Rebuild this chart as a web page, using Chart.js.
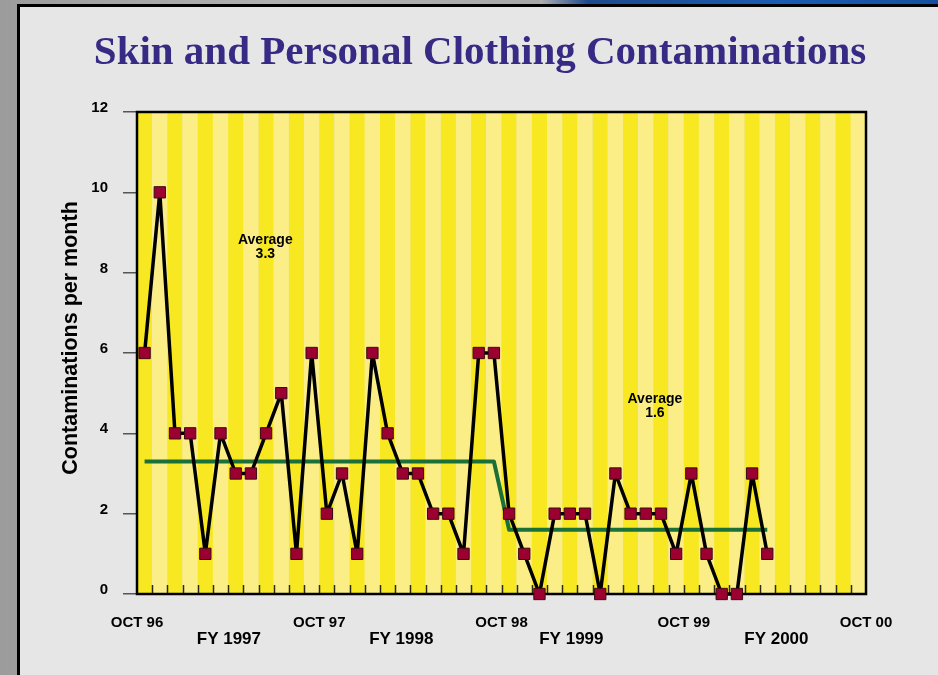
<!DOCTYPE html>
<html>
<head>
<meta charset="utf-8">
<title>Skin and Personal Clothing Contaminations</title>
<script src="https://cdn.jsdelivr.net/npm/chart.js@4.4.1/dist/chart.umd.min.js"></script>
<style>
  html, body { margin: 0; padding: 0; }
  body {
    width: 938px; height: 675px; overflow: hidden; position: relative;
    background: linear-gradient(90deg, #9c9c9c, #b2b2b2 30%, #a4a4a4 70%, #b0b0b0);
  }
  #sky {
    position: absolute; left: 540px; top: 0; width: 398px; height: 6px;
    background: linear-gradient(90deg, #b0b0b0, #1d4a8c 12%, #1a5cb2 60%, #1550a0);
  }
  #panel {
    position: absolute; left: 17px; top: 4px; width: 930px; height: 680px;
    background: #e6e6e6; border-left: 3px solid #000; border-top: 3px solid #000;
  }
  #myChart { position: absolute; left: 0; top: 0; }
</style>
</head>
<body>
<div id="sky"></div>
<div id="panel"></div>
<canvas id="myChart" width="938" height="675"></canvas>
<script>
// months shown as stripes, Oct 96 .. Sep 00
const months = [
  "OCT 96", "NOV 96", "DEC 96", "JAN 97", "FEB 97", "MAR 97", "APR 97", "MAY 97", "JUN 97", "JUL 97", "AUG 97", "SEP 97",
  "OCT 97", "NOV 97", "DEC 97", "JAN 98", "FEB 98", "MAR 98", "APR 98", "MAY 98", "JUN 98", "JUL 98", "AUG 98", "SEP 98",
  "OCT 98", "NOV 98", "DEC 98", "JAN 99", "FEB 99", "MAR 99", "APR 99", "MAY 99", "JUN 99", "JUL 99", "AUG 99", "SEP 99",
  "OCT 99", "NOV 99", "DEC 99", "JAN 00", "FEB 00", "MAR 00", "APR 00", "MAY 00", "JUN 00", "JUL 00", "AUG 00", "SEP 00"
];
const octLabels = ["OCT 96", "OCT 97", "OCT 98", "OCT 99", "OCT 00"];
const fyLabels = ["FY 1997", "FY 1998", "FY 1999", "FY 2000"];
const yTicks = [0, 2, 4, 6, 8, 10, 12];

// contaminations per month, Oct 96 .. Mar 00
const contaminations = [
  6, 10, 4, 4, 1, 4, 3, 3, 4, 5, 1, 6,
  2, 3, 1, 6, 4, 3, 3, 2, 2, 1, 6, 6,
  2, 1, 0, 2, 2, 2, 0, 3, 2, 2, 2, 1,
  3, 1, 0, 0, 3, 1
];
const averages = [
  3.3, 3.3, 3.3, 3.3, 3.3, 3.3, 3.3, 3.3, 3.3, 3.3, 3.3, 3.3,
  3.3, 3.3, 3.3, 3.3, 3.3, 3.3, 3.3, 3.3, 3.3, 3.3, 3.3, 3.3,
  1.6, 1.6, 1.6, 1.6, 1.6, 1.6, 1.6, 1.6, 1.6, 1.6, 1.6, 1.6,
  1.6, 1.6, 1.6, 1.6, 1.6, 1.6
];
const notes = [["Average", "3.3"], ["Average", "1.6"]];

// where things sit (axis units)
const fyAt = [6.05, 17.4, 28.6, 42.1];
const noteAt = [{ x: 8.45, y: 8.8 }, { x: 34.1, y: 4.85 }];

const sans = "'Liberation Sans', Arial, sans-serif";
const ink = "#000";

const backdrop = {
  id: "backdrop",
  beforeDatasetsDraw(chart) {
    const { ctx, chartArea: a, scales: { x, y } } = chart;
    ctx.save();
    months.forEach((m, i) => {
      const l = x.getPixelForValue(i);
      const r = x.getPixelForValue(i + 1);
      ctx.fillStyle = i % 2 ? "#fcee87" : "#f8e822";
      ctx.fillRect(l, a.top, r - l, a.bottom - a.top);
    });
    // little month ticks inside the bottom edge
    ctx.strokeStyle = "#2b2b1a";
    ctx.lineWidth = 1.5;
    ctx.beginPath();
    for (let i = 1; i < months.length; i++) {
      const px = Math.round(x.getPixelForValue(i)) + 0.5;
      ctx.moveTo(px, a.bottom - 9);
      ctx.lineTo(px, a.bottom);
    }
    ctx.stroke();
    // frame
    ctx.strokeStyle = "#000";
    ctx.lineWidth = 2.5;
    ctx.strokeRect(a.left, a.top, a.right - a.left, a.bottom - a.top);

    ctx.fillStyle = ink;
    ctx.font = "bold 14px " + sans;
    ctx.textAlign = "center";
    ctx.textBaseline = "middle";
    notes.forEach((lines, k) => {
      const px = x.getPixelForValue(noteAt[k].x);
      const py = y.getPixelForValue(noteAt[k].y);
      lines.forEach((t, j) => ctx.fillText(t, px, py + j * 14));
    });

    // y axis title
    ctx.save();
    ctx.translate(71, 338);
    ctx.rotate(-Math.PI / 2);
    ctx.font = "bold 21.5px " + sans;
    ctx.fillText("Contaminations per month", 0, 0);
    ctx.restore();
    ctx.restore();
  },
  afterDraw(chart) {
    const { ctx } = chart;
    ctx.save();
    ctx.fillStyle = "#372a84";
    ctx.font = "bold 41px 'Liberation Serif', 'Times New Roman', serif";
    ctx.textAlign = "center";
    ctx.textBaseline = "alphabetic";
    ctx.fillText("Skin and Personal Clothing Contaminations", 480, 64);
    ctx.restore();
  }
};

new Chart(document.getElementById("myChart"), {
  type: "line",
  data: {
    datasets: [
      {
        label: "Contaminations",
        data: contaminations.map((v, i) => ({ x: i + 0.5, y: v })),
        borderColor: "#000",
        borderWidth: 3.5,
        borderJoinStyle: "round",
        pointStyle: "rect",
        pointRadius: 8,
        pointBackgroundColor: "#9c0030",
        pointBorderColor: "#3a0a14",
        pointBorderWidth: 1,
        tension: 0,
        clip: false
      },
      {
        label: "Average",
        data: averages.map((v, i) => ({ x: i + 0.5, y: v })),
        borderColor: "#1b7038",
        borderWidth: 4,
        borderJoinStyle: "round",
        pointRadius: 0,
        tension: 0
      }
    ]
  },
  options: {
    responsive: false,
    animation: false,
    devicePixelRatio: 1,
    layout: { padding: { left: 52, right: 72, top: 112, bottom: 17 } },
    plugins: {
      legend: { display: false },
      tooltip: { enabled: false }
    },
    scales: {
      x: {
        type: "linear",
        min: 0,
        max: months.length,
        afterBuildTicks: (s) => { s.ticks = [0, 12, 24, 36, 48].map((v) => ({ value: v })); },
        afterFit: (s) => { s.height = 34; },
        grid: { display: false, drawTicks: false },
        border: { display: false },
        ticks: {
          autoSkip: false,
          maxRotation: 0,
          padding: 20,
          color: ink,
          font: { family: sans, size: 15, weight: "bold" },
          callback: (v, i) => octLabels[i]
        }
      },
      x2: {
        type: "linear",
        position: "bottom",
        min: 0,
        max: months.length,
        afterBuildTicks: (s) => { s.ticks = fyAt.map((v) => ({ value: v })); },
        afterFit: (s) => { s.height = 30; },
        grid: { display: false, drawTicks: false },
        border: { display: false },
        ticks: {
          autoSkip: false,
          maxRotation: 0,
          padding: 1,
          color: ink,
          font: { family: sans, size: 17, weight: "bold" },
          callback: (v, i) => fyLabels[i]
        }
      },
      y: {
        min: 0,
        max: 12,
        afterBuildTicks: (s) => { s.ticks = yTicks.map((v) => ({ value: v })); },
        afterFit: (s) => { s.width = 85; },
        grid: { drawOnChartArea: false, tickLength: 14, color: "#555", lineWidth: 1.5 },
        border: { display: false },
        ticks: {
          padding: 15,
          labelOffset: -4,
          color: ink,
          font: { family: sans, size: 15, weight: "bold" }
        },
        title: { display: false }
      }
    }
  },
  plugins: [backdrop]
});
</script>
</body>
</html>
